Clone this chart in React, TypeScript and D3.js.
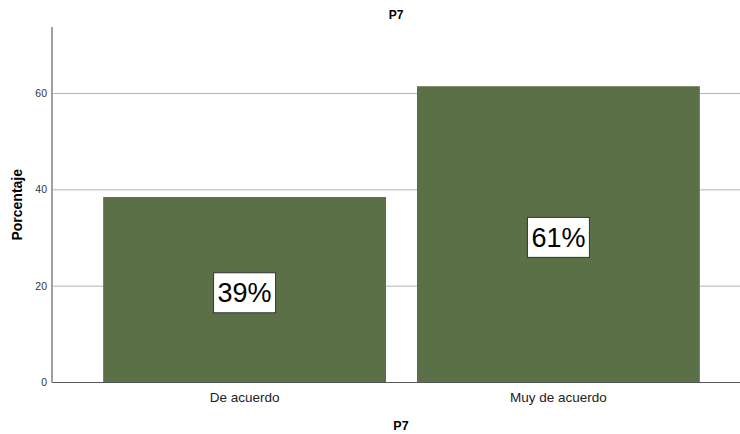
import React from "react";
import * as d3 from "d3";

// chart data
const categories = ["De acuerdo", "Muy de acuerdo"];
const percentages = [38.5, 61.5];
const dataLabels = ["39%", "61%"];
const yTicks = [0, 20, 40, 60];

const W = 740;
const H = 434;
const FONT = "Arial, 'Liberation Sans', sans-serif";

export default function App() {
  const x = d3
    .scaleBand()
    .domain(categories)
    .range([52, 751])
    .paddingInner(0.0987)
    .paddingOuter(0.163);
  const y = d3.scaleLinear().domain([0, 73.8]).range([382.5, 27]);

  return (
    <svg
      width={W}
      height={H}
      style={{ position: "absolute", left: 0, top: 0, display: "block", background: "#fff" }}
      fontFamily={FONT}
    >
      {/* title */}
      <text x={396} y={19} textAnchor="middle" fontSize={12} fontWeight="bold" fill="#000">
        P7
      </text>

      {/* gridlines */}
      {yTicks.map(t => (
        <g key={t}>
          {t > 0 && (
            <line x1={52} x2={W} y1={y(t)} y2={y(t)} stroke="#b4b4b4" strokeWidth={1} />
          )}
          <text x={47} y={y(t) + 3.5} textAnchor="end" fontSize={10.5} fill="#333">
            {t}
          </text>
        </g>
      ))}

      {/* bars */}
      {categories.map((c, i) => (
        <rect
          key={c}
          x={x(c)}
          y={y(percentages[i])}
          width={x.bandwidth()}
          height={y(0) - y(percentages[i])}
          fill="#5c7048"
        />
      ))}

      {/* data labels */}
      {categories.map((c, i) => {
        const cx = x(c)! + x.bandwidth() / 2;
        const cy = (y(percentages[i]) + y(0)) / 2 + 3;
        return (
          <g key={c + "-lbl"}>
            <rect
              x={cx - 31}
              y={cy - 20}
              width={62}
              height={40}
              fill="#fff"
              stroke="#333"
              strokeWidth={1}
            />
            <text x={cx} y={cy + 9.5} textAnchor="middle" fontSize={27} fill="#000">
              {dataLabels[i]}
            </text>
          </g>
        );
      })}

      {/* axes */}
      <line x1={52} x2={W} y1={y(0)} y2={y(0)} stroke="#555" strokeWidth={1} />
      <line x1={52} x2={52} y1={27} y2={y(0)} stroke="#a0a0a0" strokeWidth={2} />

      {/* category labels */}
      {categories.map(c => (
        <text
          key={c + "-x"}
          x={x(c)! + x.bandwidth() / 2}
          y={402}
          textAnchor="middle"
          fontSize={13.5}
          fill="#222"
        >
          {c}
        </text>
      ))}

      {/* axis titles */}
      <text x={401} y={430} textAnchor="middle" fontSize={12.5} fontWeight="bold" fill="#000">
        P7
      </text>
      <text
        transform={`translate(22, ${(27 + 382.5) / 2}) rotate(-90)`}
        textAnchor="middle"
        fontSize={14}
        fontWeight="bold"
        fill="#000"
      >
        Porcentaje
      </text>
    </svg>
  );
}
